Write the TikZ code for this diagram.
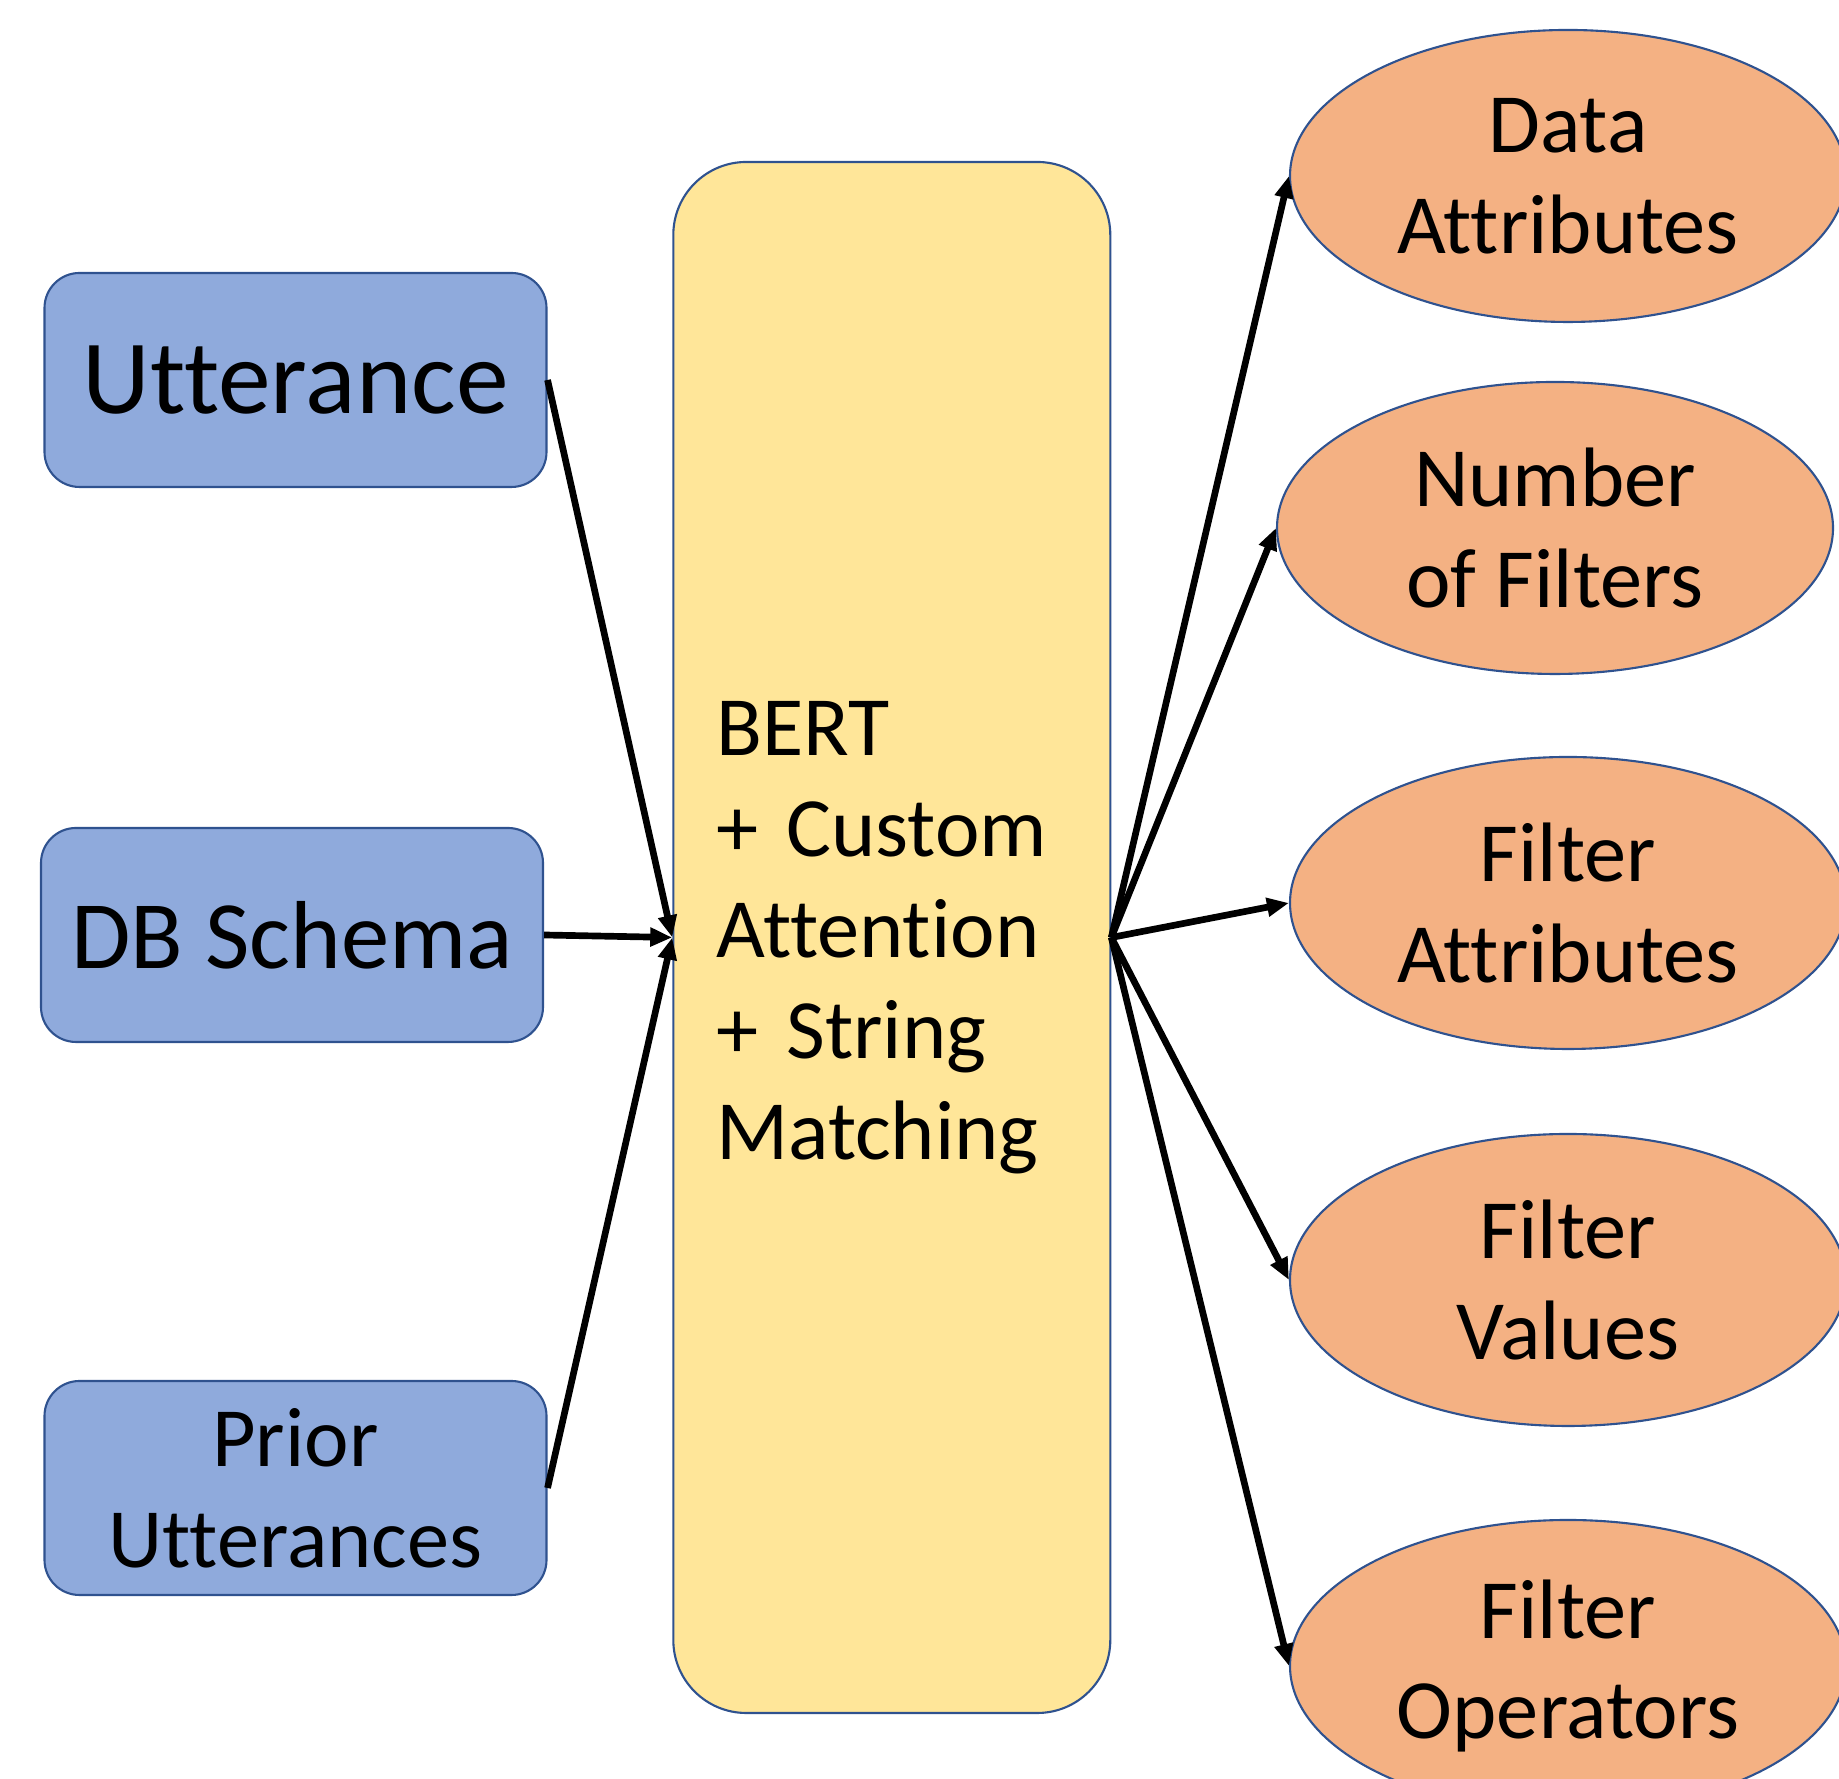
\documentclass[tikz,border=0pt]{standalone}
\usepackage{fontspec}
\setmainfont{Carlito}[Ligatures=NoCommon]
\usetikzlibrary{shapes.geometric,arrows.meta}
\definecolor{inblue}{HTML}{8FAADC}
\definecolor{edgeblue}{HTML}{2F528F}
\definecolor{bertyellow}{HTML}{FFE699}
\definecolor{outorange}{HTML}{F4B183}
\begin{document}
\begin{tikzpicture}[
  inbox/.style={draw=edgeblue, line width=0.6pt, fill=inblue, rounded corners=0.35cm, minimum width=5.02cm, minimum height=2.14cm, align=center, inner sep=0pt},
  outell/.style={ellipse, draw=edgeblue, line width=0.6pt, fill=outorange, minimum width=5.56cm, minimum height=2.92cm, align=center, inner sep=0pt, font=\fontsize{24}{28.7}\selectfont},
  flow/.style={-{Triangle[length=0.22cm,width=0.18cm]}, line width=1.9pt}]
\useasboundingbox (0,0) rectangle (18.39,17.79);
% inputs
\node[inbox, font=\fontsize{30}{36}\selectfont] (utt) at (2.955,13.99){Utterance};
\node[inbox, font=\fontsize{27.5}{33}\selectfont] (schema) at (2.92,8.44){DB Schema};
\node[inbox, font=\fontsize{24}{28.7}\selectfont] (prior) at (2.955,2.91){Prior\\Utterances};
% model
\node[draw=edgeblue, line width=0.6pt, fill=bertyellow, rounded corners=0.73cm, minimum height=15.51cm, text width=3.51cm, inner xsep=0.43cm, align=left, font=\fontsize{24}{28.7}\selectfont] (bert) at (8.918,8.415){BERT\\+ Custom\\Attention\\+ String\\Matching};
% outputs
\node[outell] (dattr) at (15.68,16.03){Data\\Attributes};
\node[outell] (nfilt) at (15.55,12.51){Number\\of Filters};
\node[outell] (fattr) at (15.68,8.76){Filter\\Attributes};
\node[outell] (fval) at (15.68,4.99){Filter\\Values};
\node[outell] (fop) at (15.68,1.13){Filter\\Operators};
\draw[flow] (utt.east) -- (bert.west);
\draw[flow] (schema.east) -- (bert.west);
\draw[flow] (prior.east) -- (bert.west);
\draw[flow] (bert.east) -- (dattr.west);
\draw[flow] (bert.east) -- (nfilt.west);
\draw[flow] (bert.east) -- (fattr.west);
\draw[flow] (bert.east) -- (fval.west);
\draw[flow] (bert.east) -- (fop.west);
\end{tikzpicture}
\end{document}
